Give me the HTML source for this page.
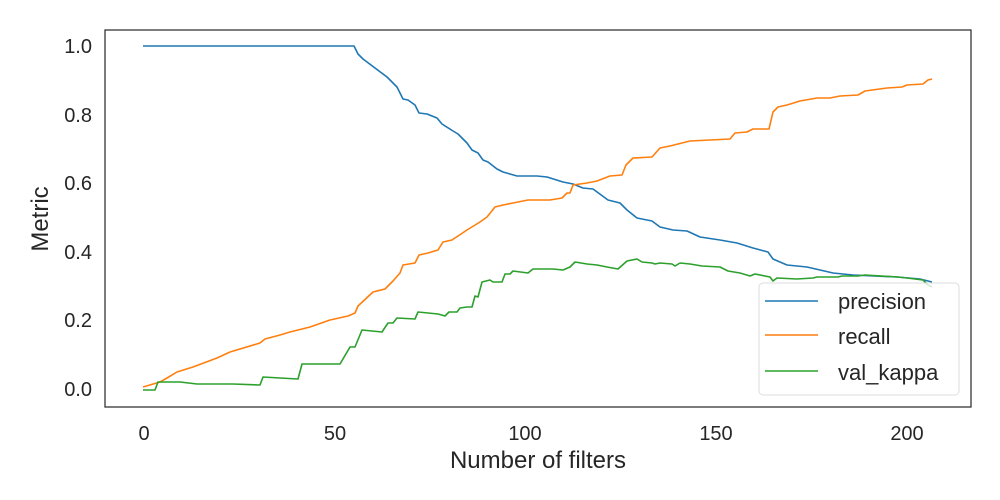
<!DOCTYPE html>
<html><head><meta charset="utf-8"><style>
html,body{margin:0;padding:0;background:#fff;}
svg{display:block;font-family:"Liberation Sans","DejaVu Sans",sans-serif;}
</style></head><body>
<svg width="1000" height="500" viewBox="0 0 1000 500" xmlns="http://www.w3.org/2000/svg">
<rect width="1000" height="500" fill="#fff"/>
<g fill="none" stroke-width="1.6" stroke-linejoin="round">
<polyline stroke="#1f77b4" points="143,46 354,46 358,54 363,59 387,77 393,83 397,87 403,99 408,100 415,105 419,113 427,114 437,118 442,124 453,131 458,134 467,143 472,150 478,153 483,160 488,162 497,169 503,172 517,176 537,176 547,177 563,182 573,184 583,188 593,189 608,200 620,203 627,210 637,218 652,221 660,227 673,230 687,231 700,237 720,240 737,243 753,248 768,252 773,259 787,265 807,267 820,270 833,273 853,275 897,277 920,279 932,282"/>
<polyline stroke="#ff7f0e" points="143,387 160,382 167,378 177,372 193,367 217,358 230,352 260,343 265,339 280,335 290,332 310,327 330,320 348,316 355,313 358,306 373,292 385,289 393,281 400,273 403,265 415,263 419,255 428,253 438,250 443,242 452,240 467,230 480,222 487,217 495,207 503,205 513,203 528,200 550,200 562,198 567,193 570,193 573,185 587,183 597,181 610,176 622,175 626,165 633,158 652,157 660,148 670,146 690,141 730,139 735,133 747,132 753,129 769,129 773,112 778,107 787,105 800,101 817,98 830,98 840,96 858,95 865,91 887,88 902,87 907,85 923,84 928,80 932,79"/>
<polyline stroke="#2ca02c" points="143,390 155,390 158,382 180,382 197,384 233,384 260,385 263,377 280,378 298,379 302,364 340,364 350,347 355,347 362,330 372,331 382,332 388,323 393,323 397,318 415,319 418,312 438,314 445,316 449,312 457,312 460,308 467,307 472,307 475,296 478,297 482,282 490,280 493,282 502,282 505,274 510,274 513,271 528,273 533,269 553,269 563,270 570,267 575,262 587,264 597,265 607,267 618,269 627,261 637,259 642,262 652,263 655,264 660,263 672,264 675,266 680,263 690,264 702,266 720,267 728,271 740,273 750,276 755,274 770,277 773,281 777,278 797,279 813,278 817,277 838,277 842,276 858,276 865,275 898,277 907,278 923,280 928,285 932,287"/>
</g>
<rect x="105" y="30" width="866" height="377" fill="none" stroke="#262626" stroke-width="1.2"/>
<rect x="759" y="283" width="200" height="112" rx="4" fill="#fff" fill-opacity="0.8" stroke="#ddd" stroke-width="1"/>
<g stroke-width="1.6">
<line x1="765" y1="301" x2="818" y2="301" stroke="#1f77b4"/>
<line x1="765" y1="335" x2="818" y2="335" stroke="#ff7f0e"/>
<line x1="765" y1="371" x2="818" y2="371" stroke="#2ca02c"/>
</g>
<g font-size="22" fill="#262626">
<text x="838" y="309">precision</text>
<text x="838" y="344">recall</text>
<text x="838" y="380">val_kappa</text>
</g>
<g font-size="20" fill="#262626" text-anchor="middle">
<text x="144" y="440">0</text>
<text x="335" y="440">50</text>
<text x="525" y="440">100</text>
<text x="716" y="440">150</text>
<text x="907" y="440">200</text>
</g>
<g font-size="20" fill="#262626" text-anchor="end">
<text x="92" y="53">1.0</text>
<text x="92" y="122">0.8</text>
<text x="92" y="190">0.6</text>
<text x="92" y="259">0.4</text>
<text x="92" y="327">0.2</text>
<text x="92" y="396">0.0</text>
</g>
<text x="538" y="468" font-size="24" fill="#262626" text-anchor="middle">Number of filters</text>
<text transform="translate(48,219) rotate(-90)" font-size="24" fill="#262626" text-anchor="middle">Metric</text>
</svg>
</body></html>
